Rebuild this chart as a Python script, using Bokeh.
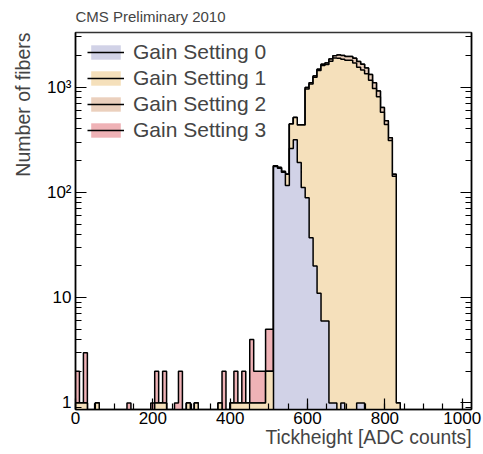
import numpy as np
from bokeh.plotting import figure
from bokeh.models import (Range1d, LogAxis, SingleIntervalTicker, LogTicker,
                          CustomJSTickFormatter, Legend, LegendItem, Title)
from bokeh.embed import file_html
from bokeh.resources import INLINE

# ---------------- data ----------------
X_MIN, X_MAX, N_BINS = 0, 1024, 100
Y_MIN, Y_MAX = 0.866, 3300

series_labels = ["Gain Setting 0", "Gain Setting 1", "Gain Setting 2", "Gain Setting 3"]

gain0 = [0, 0, 0, 0, 0, 0, 0, 0, 0, 0,
         0, 0, 0, 0, 0, 0, 0, 0, 0, 0,
         0, 0, 0, 0, 0, 0, 0, 0, 0, 0,
         0, 0, 0, 0, 0, 0, 0, 0, 0, 0,
         0, 0, 0, 0, 0, 0, 0, 0, 0, 0,
         176, 169, 155, 116, 261, 316, 192, 111, 89, 37,
         20, 11, 6, 6, 1, 1, 0, 1, 0, 0,
         0, 1, 1, 0, 0, 0, 0, 0, 0, 0,
         0, 0, 0, 0, 0, 0, 0, 0, 0, 0,
         0, 0, 0, 0, 0, 0, 0, 0, 0, 0]

gain1 = [1, 1, 1, 0, 0, 1, 0, 0, 0, 0,
         0, 0, 0, 0, 0, 0, 0, 0, 0, 0,
         1, 1, 1, 0, 0, 0, 0, 0, 1, 0,
         1, 0, 0, 0, 0, 0, 1, 0, 0, 1,
         1, 1, 1, 1, 1, 1, 1, 1, 2, 2,
         3, 3, 3, 33, 184, 198, 245, 326, 871, 1030,
         1219, 1425, 1594, 1633, 1757, 1889, 1880, 1839, 1794, 1794,
         1692, 1539, 1451, 1338, 1162, 968, 810, 576, 442, 311,
         142, 1, 0, 0, 0, 0, 0, 0, 0, 0,
         0, 0, 0, 0, 0, 0, 0, 0, 0, 0]

gain2 = [0, 0, 0, 0, 0, 0, 0, 0, 0, 0,
         0, 0, 0, 0, 0, 0, 0, 0, 0, 0,
         0, 0, 0, 0, 0, 0, 0, 0, 0, 0,
         0, 0, 0, 0, 0, 0, 0, 0, 0, 0,
         0, 0, 0, 0, 0, 0, 0, 0, 0, 0,
         0, 0, 0, 0, 0, 0, 0, 0, 30, 33,
         38, 44, 50, 51, 92, 100, 140, 160, 156, 156,
         188, 210, 198, 182, 158, 132, 110, 64, 38, 20,
         7, 0, 0, 0, 0, 0, 0, 0, 0, 0,
         0, 0, 0, 0, 0, 0, 0, 0, 0, 0]

gain3 = [1, 0, 2, 0, 0, 0, 0, 0, 0, 0,
         0, 0, 0, 1, 0, 0, 0, 0, 0, 1,
         1, 0, 1, 0, 0, 1, 2, 0, 0, 0,
         0, 0, 0, 0, 0, 0, 0, 2, 0, 0,
         1, 0, 1, 0, 3, 1, 1, 1, 3, 3,
         0, 0, 0, 0, 0, 0, 0, 0, 0, 0,
         0, 0, 0, 0, 0, 0, 0, 0, 0, 0,
         0, 0, 0, 0, 0, 0, 0, 0, 0, 0,
         0, 0, 0, 0, 0, 0, 0, 0, 0, 0,
         0, 0, 0, 0, 0, 0, 0, 0, 0, 0]

fill_colors = ["#d1d2e7", "#f5e0bb", "#ebd0bd", "#efb2b6"]

FONT = "Liberation Sans"

# ---------------- figure ----------------
p = figure(width=483, height=454, output_backend="svg", toolbar_location=None,
           x_range=Range1d(X_MIN, X_MAX), y_range=Range1d(Y_MIN, Y_MAX),
           y_axis_type="log",
           min_border_left=74, min_border_right=12, min_border_top=32,
           min_border_bottom=45)
p.xgrid.visible = False
p.ygrid.visible = False
p.outline_line_color = "#333333"
p.outline_line_width = 1.5
p.background_fill_color = "white"
p.border_fill_color = "white"

edges = np.linspace(X_MIN, X_MAX, N_BINS + 1)
stack = np.cumsum(np.array([gain0, gain1, gain2, gain3], dtype=float), axis=0)
FLOOR = 0.1

patch_r = {}
line_r = {}
for k in [3, 2, 1, 0]:
    cum = stack[k]
    vals = np.where(cum > 0, cum, FLOOR)
    xs = np.repeat(edges, 2)[1:-1]
    ys = np.repeat(vals, 2)
    xs_full = np.concatenate([[edges[0]], xs, [edges[-1]]])
    ys_full = np.concatenate([[FLOOR], ys, [FLOOR]])
    patch_r[k] = p.patch(xs_full, ys_full, fill_color=fill_colors[k],
                         line_alpha=0)
    line_r[k] = p.line(xs_full, ys_full, line_color="black", line_width=1.5)

# ---------------- axes ----------------
xa = p.xaxis[0]
xa.ticker = SingleIntervalTicker(interval=200, num_minor_ticks=4)
ya = p.yaxis[0]
ya.ticker = LogTicker(num_minor_ticks=10)
ya.formatter = CustomJSTickFormatter(code="""
const m = {1: '1', 10: '10', 100: '10\u00b2', 1000: '10\u00b3'};
const r = Math.round(tick);
return (m[r] !== undefined) ? m[r] : '';
""")

ra = LogAxis(ticker=LogTicker(num_minor_ticks=10),
             formatter=CustomJSTickFormatter(code="return '';"))
p.add_layout(ra, "right")

for ax in [xa, ya, ra]:
    ax.major_tick_in = 11
    ax.major_tick_out = 0
    ax.minor_tick_in = 6
    ax.minor_tick_out = 0
    ax.axis_line_width = 1.5
    ax.major_tick_line_width = 1.2
    ax.minor_tick_line_width = 1.2
    ax.major_label_text_font = FONT
    ax.major_label_text_font_size = "17px"
    ax.major_label_text_color = "black"
xa.major_label_standoff = 2
ya.major_label_standoff = 4
ra.major_label_standoff = 0
ra.major_label_text_font_size = "1px"

# ---------------- titles ----------------
p.title.text = "CMS Preliminary 2010"
p.title.text_font = FONT
p.title.text_font_size = "15px"
p.title.text_font_style = "normal"
p.title.align = "left"
p.title.vertical_align = "top"
p.title.standoff = 12

ylab = Title(text="Number of fibers", align="right", text_font=FONT,
             text_font_size="19.5px", text_font_style="normal", standoff=19)
p.add_layout(ylab, "left")

xlab = Title(text="Tickheight [ADC counts]", align="right", text_font=FONT,
             text_font_size="19.3px", text_font_style="normal", standoff=-3)
p.add_layout(xlab, "below")

# ---------------- legend ----------------
items = [LegendItem(label=series_labels[k], renderers=[patch_r[k], line_r[k]])
         for k in range(4)]
legend = Legend(items=items, location=(12, 267), background_fill_alpha=0,
                border_line_alpha=0, glyph_width=37, glyph_height=18,
                label_text_font=FONT, label_text_font_size="21px",
                label_standoff=9, spacing=2, padding=0, margin=0)
p.add_layout(legend)

open("out.html", "w").write(file_html(p, INLINE))
